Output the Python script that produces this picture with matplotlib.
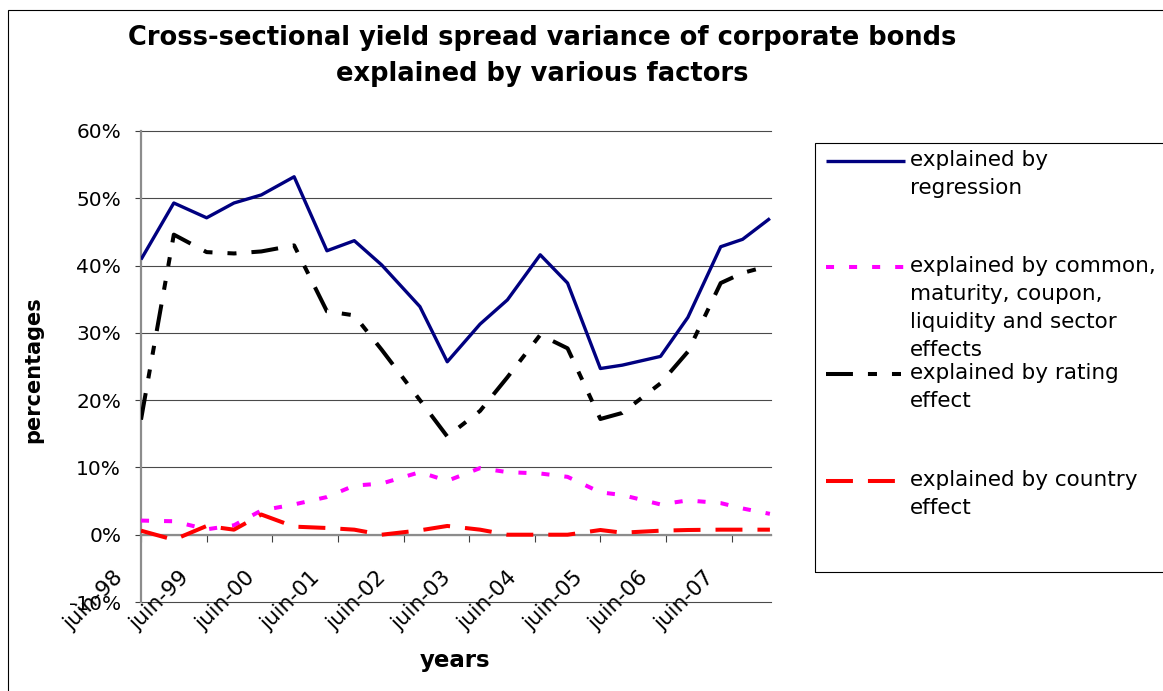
import matplotlib
matplotlib.use("Agg")
import matplotlib.pyplot as plt
from matplotlib.lines import Line2D
from matplotlib.patches import Rectangle
from matplotlib.ticker import PercentFormatter
from matplotlib.transforms import offset_copy

plt.rcParams['font.family'] = ['DejaVu Sans']
plt.rcParams['lines.scale_dashes'] = False
plt.rcParams['axes.unicode_minus'] = False

# ---- data -------------------------------------------------------------
# observation dates, in months after June 1998
months = [0, 6, 12, 17, 22, 28, 34, 39, 44, 51, 56, 62, 67, 73, 78, 84,
          88, 95, 100, 106, 110, 115]

regression = [40.9, 49.3, 47.1, 49.3, 50.5, 53.2, 42.2, 43.7, 40.1, 33.9,
              25.7, 31.3, 34.9, 41.6, 37.4, 24.7, 25.2, 26.5, 32.3, 42.8,
              43.9, 47.0]
common = [2.1, 2.0, 0.8, 1.4, 3.6, 4.5, 5.6, 7.3, 7.6, 9.3, 8.0, 9.9, 9.3,
          9.1, 8.6, 6.3, 5.9, 4.5, 5.1, 4.7, 3.9, 3.1]
rating = [17.1, 44.6, 42.0, 41.8, 42.1, 43.0, 33.2, 32.6, 27.5, 20.0, 14.6,
          18.4, 23.4, 29.7, 27.7, 17.2, 18.1, 22.5, 27.2, 37.4, 38.9, 40.0]
country = [0.6, -0.75, 1.3, 0.75, 3.0, 1.2, 1.0, 0.75, 0.0, 0.65, 1.3, 0.75,
           0.0, 0.0, 0.0, 0.7, 0.3, 0.6, 0.7, 0.75, 0.75, 0.75]

tick_months = [0, 12, 24, 36, 48, 60, 72, 84, 96, 108]
tick_labels = ["juin-98", "juin-99", "juin-00", "juin-01", "juin-02",
               "juin-03", "juin-04", "juin-05", "juin-06", "juin-07"]
y_ticks = [-10, 0, 10, 20, 30, 40, 50, 60]

series_labels = [
    "explained by\nregression",
    "explained by common,\nmaturity, coupon,\nliquidity and sector\neffects",
    "explained by rating\neffect",
    "explained by country\neffect",
]
title_text = ("Cross-sectional yield spread variance of corporate bonds\n"
              "explained by various factors")

# ---- figure -----------------------------------------------------------
W, H = 1163, 691
fig = plt.figure(figsize=(W / 100, H / 100), dpi=100)


def fx(px):
    return px / W


def fy(py):
    return 1 - py / H


ax = fig.add_axes([fx(141), fy(602), fx(771) - fx(141), fy(131) - fy(602)])

styles = [
    dict(color="#000080", lw=2.4, ls="-"),
    dict(color="#FF00FF", lw=2.9, ls=(0, (5.8, 10.8))),
    dict(color="#000000", lw=2.9, ls=(0, (19.4, 10.8, 6.5, 10.8, 6.5, 10.8))),
    dict(color="#FF0000", lw=2.9, ls=(0, (19.4, 10.8))),
]
all_series = [regression, common, rating, country]

for vals, st, lab in zip(all_series, styles, series_labels):
    ax.plot(months, vals, color=st["color"], lw=st["lw"], linestyle=st["ls"],
            solid_capstyle="butt", dash_capstyle="butt",
            label=lab.replace("\n", " "), zorder=3)

ax.set_xlim(0, 115.2)
ax.set_ylim(-10, 60)
ax.set_yticks(y_ticks)
ax.yaxis.set_major_formatter(PercentFormatter(100, decimals=0))
for yv in y_ticks:
    ax.axhline(yv, color="#4a4a4a", lw=0.8, zorder=1, clip_on=False)

for side in ("top", "right"):
    ax.spines[side].set_visible(False)
ax.spines["left"].set_color("#8c8c8c")
ax.spines["left"].set_linewidth(1.6)
ax.spines["bottom"].set_position(("data", 0))
ax.spines["bottom"].set_color("#8c8c8c")
ax.spines["bottom"].set_linewidth(1.6)

ax.set_xticks(tick_months)
ax.set_xticklabels(tick_labels)
ax.tick_params(axis="y", direction="out", length=4.3, width=0.8,
               color="#404040", pad=10, labelsize=14.5)
ax.tick_params(axis="x", direction="out", length=5, width=0.8,
               color="#404040", pad=20, labelsize=15.5)
for lbl in ax.get_xticklabels():
    lbl.set_rotation(45)
    lbl.set_rotation_mode("anchor")
    lbl.set_ha("right")
    lbl.set_va("center")
    lbl.set_transform(offset_copy(lbl.get_transform(), fig=fig, x=-21,
                                  y=-5, units="dots"))

# ---- titles -----------------------------------------------------------
for i, line in enumerate(title_text.split("\n")):
    fig.text(fx(542), fy(38 + 36 * i), line, ha="center", va="center",
             fontsize=18.5, fontweight="bold")

fig.text(fx(33), fy(370), "percentages", rotation=90, ha="center",
         va="center", fontsize=15, fontweight="bold")
fig.text(fx(455), fy(660), "years", ha="center", va="center",
         fontsize=16.5, fontweight="bold")

# ---- chart border and legend box ---------------------------------------
fig.add_artist(Rectangle((fx(8), fy(700)), 1.2, fy(10) - fy(700),
                         transform=fig.transFigure, fill=False,
                         edgecolor="#000000", lw=0.8))
fig.add_artist(Rectangle((fx(815), fy(572)), 0.5, fy(143) - fy(572),
                         transform=fig.transFigure, fill=False,
                         edgecolor="#000000", lw=0.8))

entry_y = [161, 267, 374, 481]
for ypx, st, lab in zip(entry_y, styles, series_labels):
    fig.add_artist(Line2D([fx(826), fx(905)], [fy(ypx), fy(ypx)],
                          transform=fig.transFigure, color=st["color"],
                          lw=st["lw"], linestyle=st["ls"],
                          solid_capstyle="butt", dash_capstyle="butt"))
    for j, line in enumerate(lab.split("\n")):
        fig.text(fx(910), fy(ypx + 5 + 28 * j), line, ha="left",
                 va="baseline", fontsize=15.5)

fig.savefig("out.png", dpi=100)
